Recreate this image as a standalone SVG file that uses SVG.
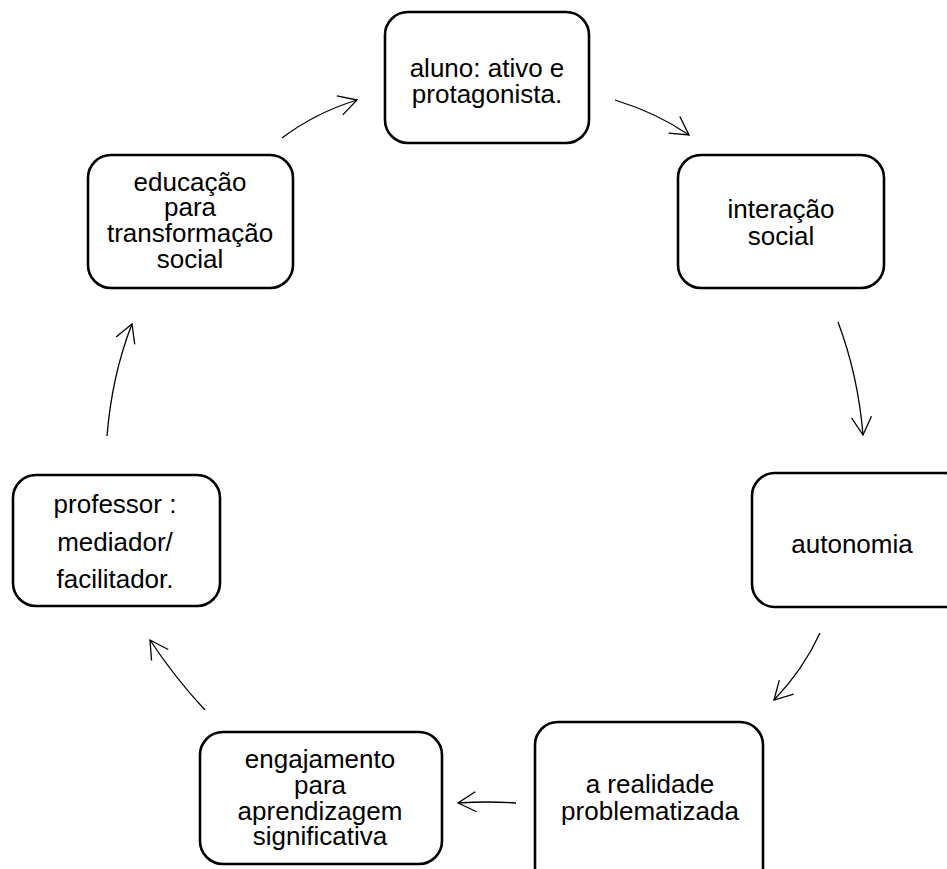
<svg xmlns="http://www.w3.org/2000/svg" width="947" height="869" viewBox="0 0 947 869">
<defs>
<style>
.box{fill:#fff;stroke:#000;stroke-width:2.6}
.t{font-family:"Liberation Sans",Arial,sans-serif;font-size:26px;fill:#000;text-anchor:middle}
.c{fill:none;stroke:#000;stroke-width:1.3}
</style>
<marker id="ah" markerWidth="24" markerHeight="24" refX="20" refY="12" orient="auto" markerUnits="userSpaceOnUse">
<path d="M2,2 L20,12 L2,22" fill="none" stroke="#000" stroke-width="1.3"/>
</marker>
</defs>
<rect width="947" height="869" fill="#fff"/>
<g id="n1"><rect class="box" x="385" y="12" width="204" height="131" rx="23"/>
<text class="t" x="487" y="77">aluno: ativo e</text><text class="t" x="487" y="103">protagonista.</text></g>
<g id="n2"><rect class="box" x="678" y="155" width="206" height="133" rx="23"/>
<text class="t" x="781" y="218">interação</text><text class="t" x="781" y="245">social</text></g>
<g id="n3"><rect class="box" x="752" y="473" width="215" height="134" rx="23"/>
<text class="t" x="852" y="553">autonomia</text></g>
<g id="n4"><rect class="box" x="535" y="722" width="228" height="170" rx="23"/>
<text class="t" x="650" y="793">a realidade</text><text class="t" x="650" y="820">problematizada</text></g>
<g id="n5"><rect class="box" x="200" y="732" width="242" height="132" rx="23"/>
<text class="t" x="320" y="768">engajamento</text><text class="t" x="320" y="794">para</text><text class="t" x="320" y="820">aprendizagem</text><text class="t" x="320" y="845">significativa</text></g>
<g id="n6"><rect class="box" x="13" y="475" width="207" height="131" rx="23"/>
<text class="t" x="115" y="513">professor :</text><text class="t" x="115" y="551">mediador/</text><text class="t" x="115" y="588">facilitador.</text></g>
<g id="n7"><rect class="box" x="88" y="155" width="205" height="133" rx="23"/>
<text class="t" x="190" y="191">educação</text><text class="t" x="190" y="216">para</text><text class="t" x="190" y="242">transformação</text><text class="t" x="190" y="268">social</text></g>
<g id="connectors">
<path class="c" d="M282,138 Q315,113 357,100" marker-end="url(#ah)"/>
<path class="c" d="M615,100 Q657,113 689,135" marker-end="url(#ah)"/>
<path class="c" d="M838,322 Q858,375 863,435" marker-end="url(#ah)"/>
<path class="c" d="M820,633 Q803,670 774,700" marker-end="url(#ah)"/>
<path class="c" d="M516,803 Q487,801 458,803" marker-end="url(#ah)"/>
<path class="c" d="M205,710 Q175,678 150,640" marker-end="url(#ah)"/>
<path class="c" d="M107,436 Q112,375 132,324" marker-end="url(#ah)"/>
</g>
</svg>
